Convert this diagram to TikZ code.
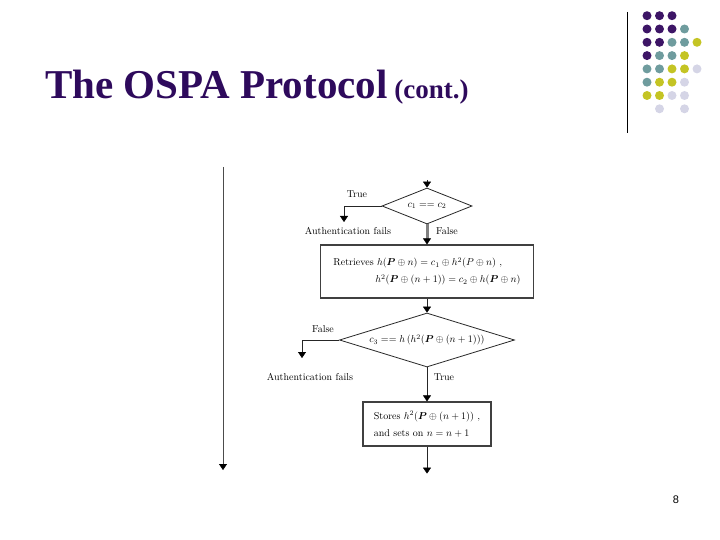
\documentclass[tikz,border=0pt]{standalone}
\usepackage{amsmath}
\usepackage{amssymb}
\usepackage{fontspec}
\newfontfamily\titlefont{Liberation Serif}
\newfontfamily\numfont{Liberation Sans}
\usepackage{tikz}
\usetikzlibrary{positioning}
\usetikzlibrary{shapes.geometric}
\usetikzlibrary{arrows.meta}
\definecolor{titlepurple}{HTML}{2E0A5C}
\definecolor{dotpurple}{HTML}{3D1566}
\definecolor{dotteal}{HTML}{6F9C9E}
\definecolor{dotolive}{HTML}{C4C424}
\definecolor{dotlilac}{HTML}{D5D5E6}

\begin{document}
\begin{tikzpicture}[x=1pt, y=-1pt,
decisionnode/.style={diamond, draw=black!85, thick, inner sep=0pt, font=\fontsize{10}{12}\selectfont},
actionnode/.style={rectangle, draw=black!75, line width=1.2pt, align=left, inner sep=0pt, font=\fontsize{10}{17}\selectfont},
failnode/.style={inner sep=3pt, font=\fontsize{10}{12}\selectfont},
labelnode/.style={inner sep=1pt, font=\fontsize{10}{12}\selectfont},
flow/.style={-{Triangle[length=6pt, width=8pt, line width=0.4pt, color=black]}, draw=black!85, line width=0.8pt},
heavyflow/.style={flow, draw=black!50, line width=3pt},
]
\useasboundingbox (0,0) rectangle (720,540);

%Title and page decoration
\node[anchor=base west, text=titlepurple, inner sep=0pt] (title) at (45,99)
	{\titlefont\bfseries\fontsize{41}{41}\selectfont The OSPA Protocol\fontsize{27}{27}\selectfont{} (cont.)};
\coordinate (bartop) at (627,12);
\coordinate (barend) at (627,133);
\draw[black, line width=0.8pt] (bartop) -- (barend);
\foreach \c/\r/\col in {1/1/dotpurple, 2/1/dotpurple, 3/1/dotpurple,
	1/2/dotpurple, 2/2/dotpurple, 3/2/dotpurple, 4/2/dotteal,
	1/3/dotpurple, 2/3/dotpurple, 3/3/dotteal, 4/3/dotteal, 5/3/dotolive,
	1/4/dotpurple, 2/4/dotteal, 3/4/dotteal, 4/4/dotolive,
	1/5/dotteal, 2/5/dotteal, 3/5/dotolive, 4/5/dotolive, 5/5/dotlilac,
	1/6/dotteal, 2/6/dotolive, 3/6/dotolive, 4/6/dotlilac,
	1/7/dotolive, 2/7/dotolive, 3/7/dotlilac, 4/7/dotlilac,
	2/8/dotlilac, 4/8/dotlilac}
	\fill[\col] (634.5+12.5*\c, 2.4+13.3*\r) circle (4.5);
\node[font=\numfont\fontsize{11}{11}\selectfont] (pagenum) at (676,500) {8};

%Nodes
\node[decisionnode, aspect=2.5, minimum width=90pt, minimum height=36pt] (check1) at (427,206) {$c_1 == c_2$};
\node[actionnode, minimum width=213pt, minimum height=53pt, below=20pt of check1] (retrieve)
	{Retrieves $h(\boldsymbol{P} \oplus n) = c_1 \oplus h^2(P \oplus n)$ ,\\
	\hspace*{42pt}$h^2(\boldsymbol{P} \oplus (n+1)) = c_2 \oplus h(\boldsymbol{P} \oplus n)$};
\node[decisionnode, aspect=3.2, minimum width=175pt, minimum height=54pt, below=14pt of retrieve] (check2)
	{$c_3 == h\,(h^2(\boldsymbol{P} \oplus (n+1)))$};
\node[actionnode, minimum width=128pt, minimum height=44pt, below=34pt of check2] (store)
	{Stores $h^2(\boldsymbol{P} \oplus (n+1))$ ,\\ and sets on $n = n+1$};

\node[failnode] (fail1) at (348,231) {Authentication fails};
\node[failnode] (fail2) at (310,377) {Authentication fails};
\node[labelnode] (true1) at (357,194) {True};
\node[labelnode] (false1) at (447,231) {False};
\node[labelnode] (false2) at (323,329) {False};
\node[labelnode] (true2) at (444,377) {True};

\coordinate (entry) at (427,180);
\coordinate (drop1) at (344,222);
\coordinate (drop2) at (302,358);
\coordinate[below=27pt of store.south] (exit);
\coordinate (railtop) at (223,167);
\coordinate (railend) at (223,470);

%Lines
\draw[flow] (entry) -- (check1.north);
\draw[flow] (check1.west) -| (drop1);
\draw[heavyflow] (check1.south) -- (retrieve.north);
\draw[flow] (retrieve.south) -- (check2.north);
\draw[flow] (check2.west) -| (drop2);
\draw[flow] (check2.south) -- (store.north);
\draw[flow] (store.south) -- (exit);
\draw[flow, draw=black!70] (railtop) -- (railend);
\end{tikzpicture}
\end{document}
